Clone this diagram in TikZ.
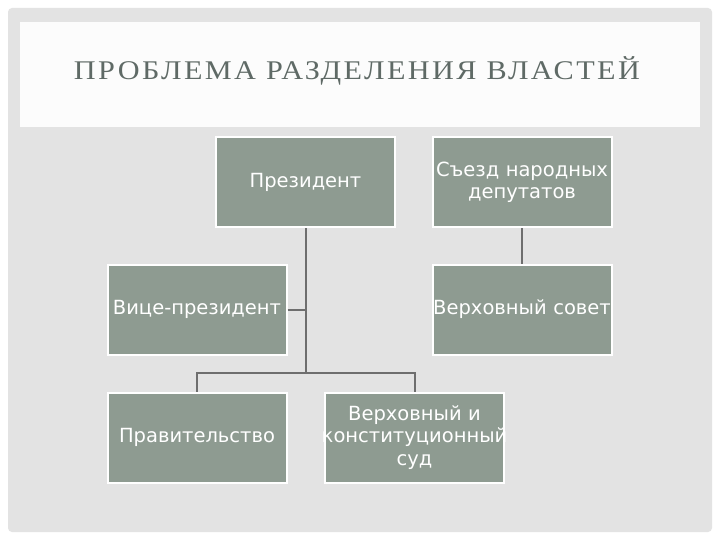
\documentclass[tikz,border=0pt]{standalone}
\usepackage{fontspec}
\setmainfont{DejaVu Sans}
\newfontfamily\titlefont[LetterSpace=8]{Liberation Serif}
\definecolor{boxfill}{HTML}{8E9B91}
\definecolor{panel}{HTML}{E3E3E3}
\definecolor{titlecol}{HTML}{5F6A66}
\definecolor{linecol}{HTML}{6E6E6E}
\newcommand{\fitline}[1]{\makebox[177pt][c]{#1}}
\begin{document}
\begin{tikzpicture}[x=1pt,y=-1pt,
  orgbox/.style={draw=white,line width=2pt,fill=boxfill,text width=177pt,minimum height=90pt,
    inner xsep=1pt,inner ysep=0pt,text=white,align=center,font=\fontsize{19.5}{22.5}\selectfont},
  conn/.style={draw=linecol,line width=2pt}]
\useasboundingbox (0,0) rectangle (720,540);
\fill[white] (0,0) rectangle (720,540);
\fill[panel,rounded corners=4pt] (8,8) rectangle (712,532);
\fill[white!98!gray] (20,22) rectangle (700,127);
\node[text=titlecol,font=\titlefont\fontsize{27}{30}\selectfont] (title) at (357,71) {\scalebox{1.12}[1]{ПРОБЛЕМА РАЗДЕЛЕНИЯ ВЛАСТЕЙ}};
\node[orgbox] (pres) at (305.5,182.5) {Президент};
\node[orgbox] (sezd) at (522,182.5) {\fitline{Съезд народных}\\депутатов};
\node[orgbox] (vice) at (197,309.5) {\fitline{Вице-президент}};
\node[orgbox] (vs) at (522,309.5) {\fitline{Верховный совет}};
\node[orgbox] (prav) at (197,437.5) {Правительство};
\node[orgbox] (sud) at (414.5,437.5) {Верховный и\\\fitline{конституционный}\\суд};
\coordinate (j) at (305.5,373);
\draw[conn] (pres.south) -- (j);
\draw[conn] (vice.east) -- (vice.east -| pres.south);
\draw[conn] (sezd.south) -- (vs.north);
\draw[conn] (prav.north) |- (j) -| (sud.north);
\end{tikzpicture}
\end{document}
